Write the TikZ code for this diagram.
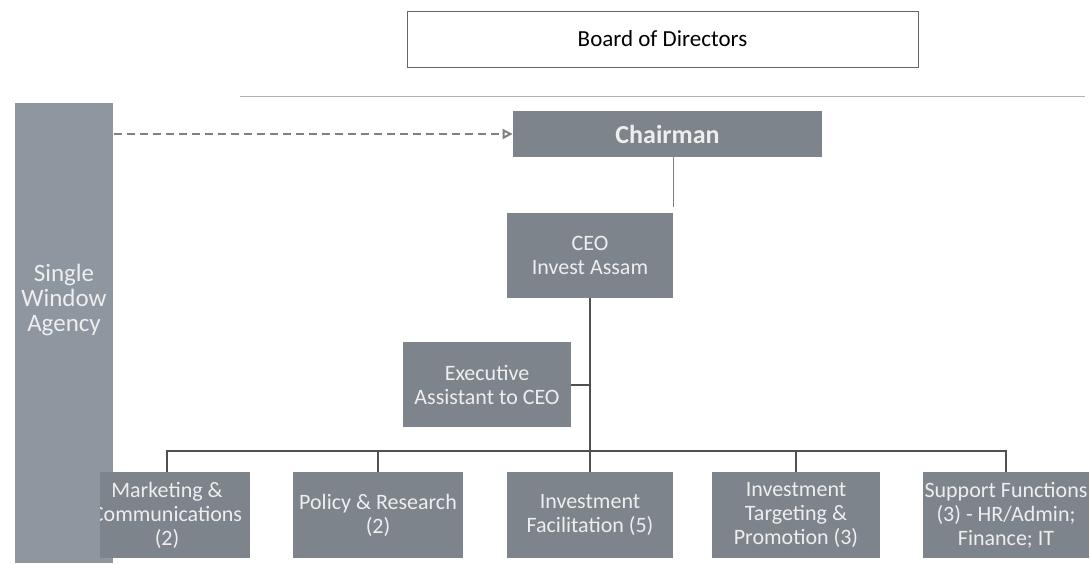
\documentclass[tikz,border=0pt]{standalone}
\usepackage{fontspec}
\setmainfont{Carlito}
\usetikzlibrary{arrows.meta}
\definecolor{boxgray}{RGB}{126,132,140}
\definecolor{swagray}{RGB}{142,150,160}
\definecolor{boxtext}{RGB}{238,238,238}
\definecolor{linegray}{RGB}{80,80,80}
\begin{document}
\begin{tikzpicture}[x=0.5pt,y=-0.5pt,
        unit/.style={rectangle,fill=boxgray,text=boxtext,align=center,inner sep=1pt,
            minimum width=83pt,minimum height=43pt,font=\fontsize{11}{12}\selectfont},
        link/.style={draw=linegray,line width=1pt},
        thinlink/.style={draw=black!50,line width=0.5pt},
        dotlink/.style={draw=black!50,line width=1pt,dash pattern=on 4pt off 2.5pt,
            -{Triangle[open,length=5pt,width=5pt]}}]
    \useasboundingbox (0,0) rectangle (1090,563);
    \draw[black!30,line width=0.5pt] (240,96) -- (1085,96);

    \node[draw=black!60,line width=0.5pt,minimum width=255.5pt,minimum height=28pt,
        font=\fontsize{11.5}{13}\selectfont] (board) at (662.5,39) {Board of Directors};

    \node[unit,fill=swagray,minimum width=49pt,minimum height=230pt,anchor=north west] (swa) at (15,103) {};
    \node[text=boxtext,align=center,inner sep=0pt,font=\fontsize{12.5}{12.5}\selectfont] (swalabel) at (64,300) {Single\\Window\\Agency};

    \node[unit,minimum width=154.5pt,minimum height=23pt,font=\bfseries\fontsize{13}{14}\selectfont] (chair) at (667.5,134) {Chairman};
    \node[unit,minimum height=42.5pt] (ceo) at (590,255.5) {CEO\\Invest Assam};
    \node[unit,minimum width=84pt,minimum height=42.5pt] (ea) at (487,384.5) {Executive\\Assistant to CEO};

    \begin{scope}
        \clip (100,460) rectangle (260,563);
        \node[unit] (mkt) at (167,515) {Marketing \&\\Communications\\(2)};
    \end{scope}
    \node[unit,minimum width=85pt] (policy) at (378,515) {Policy \& Research\\(2)};
    \node[unit] (invfac) at (590,515) {Investment\\Facilitation (5)};
    \node[unit,minimum width=84pt] (target) at (796,515) {Investment\\Targeting \&\\Promotion (3)};
    \node[unit] (supp) at (1006,515) {Support Functions\\(3) - HR/Admin;\\Finance; IT};

    \draw[dotlink] (swa.east |- chair.west) -- (chair.west);
    \draw[thinlink] (chair.south -| ceo.north east) -- ([yshift=3pt]ceo.north east);
    \draw[link] (ceo.south) -- (invfac.north);
    \draw[link] (ea.east) -- (ea.east -| ceo.south);

    \coordinate (bus) at (0,451);
    \draw[link] (mkt.north) -- (mkt.north |- bus) -- (supp.north |- bus) -- (supp.north);
    \draw[link] (policy.north) -- (policy.north |- bus);
    \draw[link] (target.north) -- (target.north |- bus);
\end{tikzpicture}
\end{document}
